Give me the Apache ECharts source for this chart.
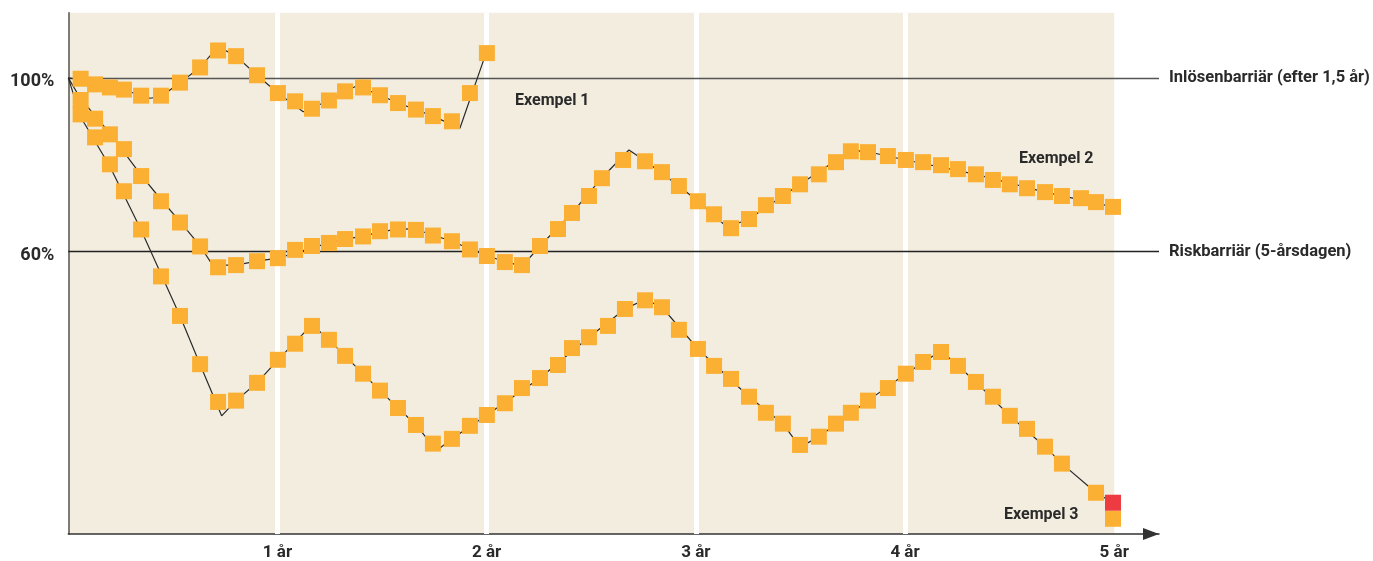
<!DOCTYPE html>
<html>
<head>
<meta charset="utf-8">
<script src="https://cdn.jsdelivr.net/npm/echarts@6/dist/echarts.min.js"></script>
<style>
html,body{margin:0;padding:0;background:#fff;}
#chart{width:1373px;height:561px;}
</style>
</head>
<body>
<div id="chart"></div>
<script>
// ---- data (x in years, y in % of start level) ----
var yearTicks = [1, 2, 3, 4];
var barrierLevels = [100, 60];
var barrierNames = ['Inlösenbarriär (efter 1,5 år)', 'Riskbarriär (5-årsdagen)'];
var yTickLabels = {100: '100%', 60: '60%'};

var ex1Markers = [[0.059,99.8],[0.128,98.5],[0.199,97.8],[0.266,97.3],[0.348,95.9],[0.443,95.9],[0.534,98.9],[0.630,102.4],[0.716,106.3],[0.802,105.0],[0.902,100.6],[1.002,96.5],[1.084,94.6],[1.165,92.9],[1.246,94.8],[1.323,96.9],[1.409,97.8],[1.490,96.0],[1.576,94.2],[1.662,92.7],[1.743,91.2],[1.834,90.0],[1.920,96.5],[2.001,105.7]];
var ex1Line = [[0,100],[0.059,99.6],[0.199,97.7],[0.266,97.2],[0.391,95.3],[0.443,95.7],[0.534,98.9],[0.630,102.4],[0.716,107.2],[0.802,105.0],[0.902,100.6],[1.002,96.5],[1.123,92.2],[1.246,94.8],[1.379,98.2],[1.490,96.0],[1.576,94.2],[1.662,92.7],[1.743,91.2],[1.872,88.4],[1.992,105.0]];

var ex2Markers = [[0.059,94.9],[0.128,90.6],[0.199,87.0],[0.266,83.6],[0.348,77.4],[0.443,71.6],[0.534,66.7],[0.630,61.2],[0.716,56.4],[0.802,56.9],[0.902,57.8],[1.002,58.5],[1.084,60.4],[1.165,61.3],[1.246,62.0],[1.323,62.9],[1.409,63.5],[1.490,64.7],[1.576,65.1],[1.662,65.0],[1.743,63.7],[1.834,62.4],[1.920,60.5],[2.001,59.0],[2.087,57.6],[2.169,56.9],[2.255,61.3],[2.341,65.2],[2.408,68.9],[2.489,72.8],[2.551,76.9],[2.652,81.1],[2.757,80.8],[2.838,78.3],[2.919,75.1],[3.010,71.6],[3.087,68.6],[3.168,65.4],[3.254,67.5],[3.335,70.7],[3.416,72.8],[3.498,75.5],[3.588,77.8],[3.670,80.6],[3.741,83.1],[3.823,82.9],[3.918,82.0],[4.004,81.1],[4.086,80.6],[4.172,79.9],[4.253,79.0],[4.339,77.8],[4.420,76.5],[4.501,75.5],[4.583,74.6],[4.669,73.7],[4.750,72.8],[4.841,72.3],[4.913,71.4],[4.994,70.3]];
var ex2Line = [[0,100],[0.059,95.2],[0.199,87.2],[0.348,77.6],[0.443,72.0],[0.534,66.9],[0.630,61.3],[0.690,56.9],[0.802,56.9],[0.902,57.8],[1.002,58.5],[1.246,62.0],[1.576,65.3],[1.662,65.1],[1.834,62.4],[2.001,59.0],[2.169,56.6],[2.255,61.3],[2.408,68.9],[2.551,77.0],[2.680,83.4],[2.757,80.9],[2.919,75.1],[3.010,71.6],[3.150,65.6],[3.254,67.5],[3.498,75.5],[3.741,83.3],[3.823,83.0],[4.004,81.1],[4.339,77.8],[4.669,73.7],[4.994,70.3]];

var ex3Markers = [[0.059,91.6],[0.128,86.3],[0.199,80.1],[0.266,73.9],[0.348,65.1],[0.443,54.3],[0.534,45.2],[0.630,34.1],[0.716,25.4],[0.802,25.7],[0.902,29.8],[1.002,35.1],[1.084,38.8],[1.165,42.9],[1.246,39.7],[1.323,36.0],[1.409,31.9],[1.490,28.0],[1.576,24.0],[1.662,20.1],[1.743,15.8],[1.834,16.9],[1.920,19.9],[2.001,22.4],[2.087,25.1],[2.169,28.6],[2.255,30.9],[2.341,33.9],[2.408,37.8],[2.489,40.3],[2.580,42.9],[2.661,46.8],[2.757,48.8],[2.838,47.2],[2.919,42.0],[3.010,37.6],[3.087,33.7],[3.168,30.7],[3.254,26.6],[3.335,22.9],[3.416,20.4],[3.498,15.5],[3.588,17.4],[3.670,20.4],[3.741,22.9],[3.823,25.7],[3.918,28.6],[4.004,31.9],[4.086,34.6],[4.172,36.9],[4.253,33.7],[4.339,30.0],[4.420,26.6],[4.501,22.2],[4.583,19.2],[4.669,15.1],[4.750,11.2],[4.913,4.5],[4.994,-1.5]];
var ex3Line = [[0,100],[0.059,91.0],[0.199,79.6],[0.348,65.0],[0.534,45.2],[0.630,34.0],[0.733,22.2],[0.802,25.7],[0.902,29.8],[1.002,35.1],[1.165,43.2],[1.246,39.7],[1.490,28.0],[1.662,20.1],[1.761,14.2],[1.834,16.9],[2.001,22.4],[2.255,30.9],[2.489,40.3],[2.661,46.8],[2.757,49.0],[2.838,47.2],[3.010,37.6],[3.254,26.6],[3.416,20.4],[3.498,15.0],[3.588,17.4],[3.823,25.7],[4.004,31.9],[4.172,37.2],[4.339,30.0],[4.501,22.2],[4.669,15.1],[4.750,11.2],[4.913,4.5],[4.994,2.2]];
var ex3Knock = [[4.994,2.2]];

var exLabels = ['Exempel 1','Exempel 2','Exempel 3'];

// ---- styles ----
var ORANGE = '#FBB034', RED = '#EE3B42', BEIGE = '#F2EDDF', INK = '#2a2a2a';
var FONT = 'Roboto';

var chart = echarts.init(document.getElementById('chart'), null, {renderer:'canvas'});

function markerSeries(data, color){
  return {type:'scatter', data:data, symbol:'rect', symbolSize:16, z:6,
    itemStyle:{color:color, opacity:1}, silent:true};
}
function lineSeries(data){
  return {type:'line', data:data, showSymbol:false, symbol:'none', z:5,
    lineStyle:{color:INK, width:1.2}, silent:true};
}

var option = {
  animation:false,
  grid:{left:68.3, right:214, top:12.7, bottom:25.3},
  xAxis:{
    type:'value', min:0, max:5.214, interval:1,
    axisLine:{show:true, onZero:false, symbol:['none','triangle'], symbolSize:[12,16], symbolOffset:[0,-8],
      lineStyle:{color:'#333', width:1.5}},
    axisTick:{show:false},
    splitLine:{show:false},
    axisLabel:{margin:10, color:INK, fontFamily:FONT, fontWeight:'bold', fontSize:17,
      formatter:function(v){ return (v>=1 && Math.abs(v-Math.round(v))<1e-6 && v<=5) ? Math.round(v)+' år' : ''; }}
  },
  yAxis:{
    type:'value', min:-5, max:115, interval:5,
    axisLine:{show:true, lineStyle:{color:'#555', width:1.5}},
    axisTick:{show:false},
    splitLine:{show:false},
    axisLabel:{margin:14, color:INK, fontFamily:FONT, fontWeight:'bold', fontSize:18,
      rich:{p:{padding:[8,0,0,0], fontFamily:FONT, fontWeight:'bold', fontSize:18, color:INK}},
      formatter:function(v){ return yTickLabels[v] ? '{p|' + yTickLabels[v] + '}' : ''; }}
  },
  series:[
    {type:'line', data:[], z:0, silent:true,
      markArea:{silent:true, z:0, itemStyle:{color:BEIGE}, data:[[{xAxis:0, yAxis:-5},{xAxis:5, yAxis:115}]]}},
    {type:'line', data:[], z:1, silent:true,
      markLine:{silent:true, z:1, symbol:['none','none'], label:{show:false},
        lineStyle:{color:'#ffffff', width:5, type:'solid'},
        data: yearTicks.map(function(t){ return {xAxis:t}; })}},
    {type:'line', data:[], z:2, silent:true,
      markLine:{silent:true, z:2, symbol:['none','none'],
        label:{show:true, position:'end', distance:10, color:INK, fontFamily:FONT, fontWeight:'bold', fontSize:16.5},
        data: barrierLevels.map(function(v,i){
          return {yAxis:v, label:{formatter:barrierNames[i]},
            lineStyle:{color: i===0 ? '#555' : '#222', width:1.3, type:'solid'}};
        })}},
    lineSeries(ex1Line), lineSeries(ex2Line), lineSeries(ex3Line),
    markerSeries(ex1Markers, ORANGE), markerSeries(ex2Markers, ORANGE), markerSeries(ex3Markers, ORANGE),
    markerSeries(ex3Knock, RED)
  ],
  graphic:[
    {type:'text', left:515, top:93, z:10, style:{text:exLabels[0], font:'bold 16px '+FONT, fill:INK}},
    {type:'text', left:1019, top:151, z:10, style:{text:exLabels[1], font:'bold 16px '+FONT, fill:INK}},
    {type:'text', left:1004, top:507, z:10, style:{text:exLabels[2], font:'bold 16px '+FONT, fill:INK}}
  ]
};
chart.setOption(option);
</script>
</body>
</html>
